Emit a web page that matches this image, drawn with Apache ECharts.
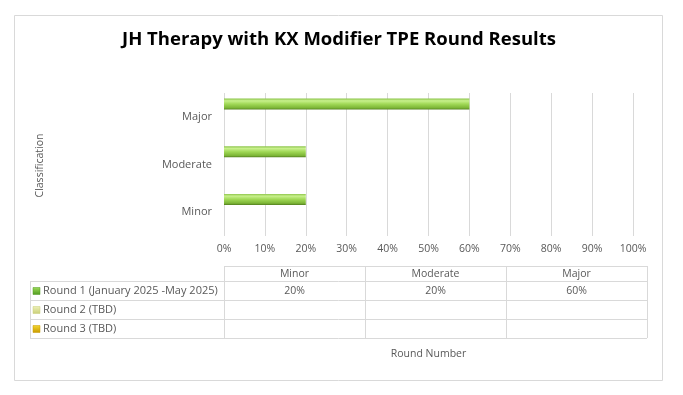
<!DOCTYPE html>
<html>
<head>
<meta charset="utf-8">
<script src="https://cdn.jsdelivr.net/npm/echarts@6/dist/echarts.min.js"></script>
<style>
html,body{margin:0;padding:0;background:#fff;}
#chart{width:683px;height:395px;}
</style>
</head>
<body>
<div id="chart"></div>
<script>
// ---- data ----
const categories = ['Minor', 'Moderate', 'Major'];
const seriesNames = ['Round 1 (January 2025 -May 2025)', 'Round 2 (TBD)', 'Round 3 (TBD)'];
const round1 = [20, 20, 60];
const round2 = [null, null, null];
const round3 = [null, null, null];
const xTicks = [0, 10, 20, 30, 40, 50, 60, 70, 80, 90, 100];
const titleText = 'JH Therapy with KX Modifier TPE Round Results';
const yAxisName = 'Classification';
const xAxisName = 'Round Number';

const FONT = "'Open Sans', sans-serif";
const seriesData = [round1, round2, round3];
const keyColors = [
  ['#9fdc5a', '#4f9a1e'],
  ['#eef0b8', '#c9cf78'],
  ['#f5d830', '#c89a00']
];
const barGradient = new echarts.graphic.LinearGradient(0, 0, 0, 1, [
  {offset: 0, color: '#8cc44a'},
  {offset: 0.2, color: '#c8f08c'},
  {offset: 0.5, color: '#a0d856'},
  {offset: 0.85, color: '#7cb536'},
  {offset: 1, color: '#53801f'}
]);

const chart = echarts.init(document.getElementById('chart'), null, {renderer: 'canvas'});

const option = {
  animation: false,
  backgroundColor: '#fff',
  title: {
    text: titleText,
    left: 334, top: 25, textAlign: 'center',
    textStyle: {fontFamily: FONT, fontWeight: 'bold', fontSize: 18.5, color: '#000'}
  },
  grid: {left: 224, right: 50, top: 93, bottom: 159, containLabel: false},
  xAxis: {
    type: 'value', min: 0, max: 100, interval: 10,
    axisLine: {show: false}, axisTick: {show: false},
    splitLine: {show: true, lineStyle: {color: '#d9d9d9', width: 1}},
    axisLabel: {formatter: v => v + '%', color: '#595959', fontFamily: FONT, fontSize: 10.5, margin: 8}
  },
  yAxis: {
    type: 'category', data: categories,
    axisLine: {show: false}, axisTick: {show: false},
    axisLabel: {color: '#595959', fontFamily: FONT, fontSize: 11, margin: 12}
  },
  series: seriesData.map((d, i) => ({
    type: 'bar', name: seriesNames[i], data: d,
    barWidth: 11, barGap: '16%',
    itemStyle: {
      color: i === 0 ? barGradient : keyColors[i][1],
      shadowColor: 'rgba(0,0,0,0.4)', shadowBlur: 3, shadowOffsetX: 1, shadowOffsetY: 2
    }
  }))
};
chart.setOption(option);

// ---- data table & decorations built from the arrays ----
function buildGraphics() {
  const g = [];
  const gray = '#d9d9d9';
  const txt = '#595959';
  const F = (s) => s + 'px ' + FONT;
  g.push({type: 'rect', shape: {x: 14.5, y: 15.5, width: 648, height: 365}, style: {fill: null, stroke: gray, lineWidth: 1}, silent: true, z: -1});

  const plotLeft = chart.convertToPixel({xAxisIndex: 0}, 0);
  const tLeft = 30, tRight = 647;
  const colW = (tRight - plotLeft) / categories.length;
  const hTop = 266, hBot = 281, rowH = 19;
  const nRows = seriesNames.length;
  const tBottom = hBot + rowH * nRows;
  const ln = (x1, y1, x2, y2) => g.push({type: 'line', shape: {x1, y1, x2, y2}, style: {stroke: gray, lineWidth: 1}, silent: true});
  ln(plotLeft, hTop + 0.5, tRight, hTop + 0.5);
  for (let r = 0; r <= nRows; r++) {
    const y = Math.round(hBot + r * rowH) + 0.5;
    ln(tLeft, y, tRight, y);
  }
  ln(tLeft + 0.5, hBot, tLeft + 0.5, tBottom);
  for (let c = 0; c <= categories.length; c++) {
    const x = Math.round(plotLeft + c * colW) + 0.5;
    ln(x, hTop, x, tBottom);
  }
  categories.forEach((cat, c) => {
    g.push({type: 'text', style: {text: cat, x: plotLeft + (c + 0.5) * colW, y: (hTop + hBot) / 2 + 0.5, align: 'center', verticalAlign: 'middle', fill: txt, font: F(10.5)}, silent: true});
  });
  seriesNames.forEach((name, r) => {
    const yc = hBot + (r + 0.5) * rowH + 0.5;
    g.push({type: 'rect', shape: {x: 33, y: yc - 3.5, width: 7, height: 7},
      style: {fill: new echarts.graphic.LinearGradient(0, 0, 0, 1, [{offset: 0, color: keyColors[r][0]}, {offset: 1, color: keyColors[r][1]}]), stroke: keyColors[r][1], lineWidth: 0.5}, silent: true});
    g.push({type: 'text', style: {text: name, x: 43, y: yc, align: 'left', verticalAlign: 'middle', fill: txt, font: F(11)}, silent: true});
    seriesData[r].forEach((v, c) => {
      if (v == null) return;
      g.push({type: 'text', style: {text: v + '%', x: plotLeft + (c + 0.5) * colW, y: yc, align: 'center', verticalAlign: 'middle', fill: txt, font: F(10.5)}, silent: true});
    });
  });
  const plotRight = chart.convertToPixel({xAxisIndex: 0}, 100);
  g.push({type: 'text', style: {text: xAxisName, x: (plotLeft + plotRight) / 2, y: 354, align: 'center', verticalAlign: 'middle', fill: txt, font: F(10.5)}, silent: true});
  const yTop = chart.convertToPixel({yAxisIndex: 0}, categories.length - 1);
  const yBot = chart.convertToPixel({yAxisIndex: 0}, 0);
  g.push({type: 'text', rotation: Math.PI / 2, x: 40, y: (yTop + yBot) / 2 + 1,
    style: {text: yAxisName, x: 0, y: 0, align: 'center', verticalAlign: 'middle', fill: txt, font: F(10.5)}, silent: true});
  return g;
}
chart.setOption({graphic: buildGraphics()});
</script>
</body>
</html>
